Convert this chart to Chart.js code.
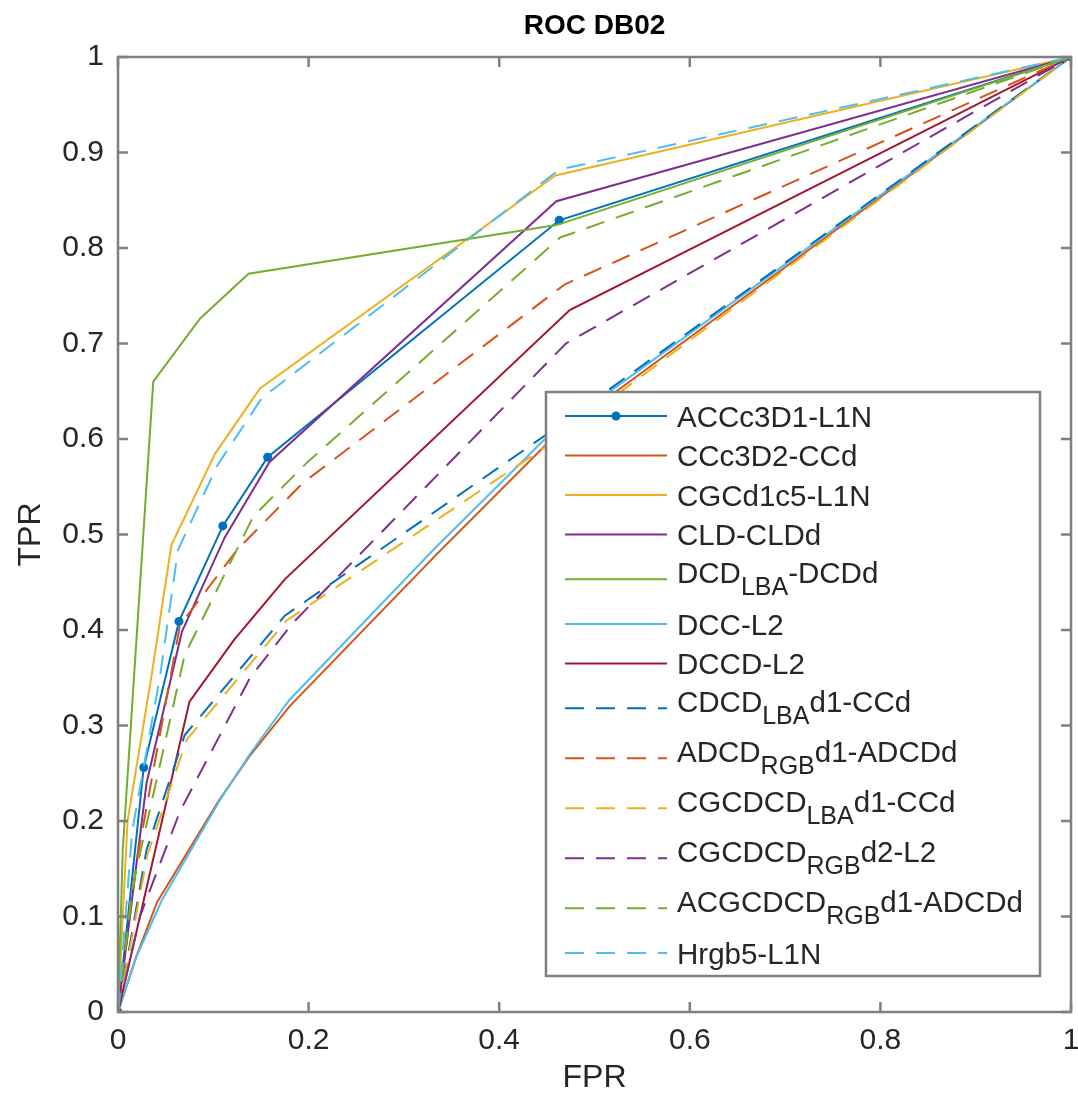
<!doctype html>
<html lang="en">
<head>
<meta charset="utf-8">
<title>ROC DB02</title>
<style>
  * { margin: 0; padding: 0; }
  body { background: #fff; }
  .chartBox { width: 1078px; height: 1107px; }
</style>
</head>
<body>
<div class="chartBox"><canvas id="myChart"></canvas></div>
<script src="https://cdn.jsdelivr.net/npm/chart.js/dist/chart.umd.min.js"></script>
<script>
// ROC points (FPR on x, TPR on y)
const fprACCc3D1 = [0, 0.027, 0.064, 0.110, 0.157, 0.463, 1];
const tprACCc3D1 = [0, 0.256, 0.409, 0.509, 0.581, 0.829, 1];
const fprCCc3D2 = [0, 0.020, 0.041, 0.105, 0.138, 0.180, 0.335, 0.455, 1];
const tprCCc3D2 = [0, 0.060, 0.115, 0.220, 0.268, 0.320, 0.480, 0.600, 1];
const fprCGCd1c5 = [0, 0.010, 0.035, 0.056, 0.102, 0.149, 0.459, 1];
const tprCGCd1c5 = [0, 0.200, 0.351, 0.489, 0.585, 0.653, 0.876, 1];
const fprCLD = [0, 0.030, 0.067, 0.112, 0.159, 0.460, 1];
const tprCLD = [0, 0.240, 0.398, 0.497, 0.576, 0.849, 1];
const fprDCD = [0, 0.005, 0.037, 0.086, 0.137, 0.460, 1];
const tprDCD = [0, 0.170, 0.660, 0.726, 0.773, 0.824, 1];
const fprDCC = [0, 0.018, 0.046, 0.107, 0.139, 0.180, 0.331, 0.450, 1];
const tprDCC = [0, 0.055, 0.117, 0.222, 0.271, 0.327, 0.484, 0.602, 1];
const fprDCCD = [0, 0.075, 0.122, 0.175, 0.474, 1];
const tprDCCD = [0, 0.325, 0.390, 0.453, 0.735, 1];
const fprCDCDlba = [0, 0.030, 0.070, 0.175, 0.450, 1];
const tprCDCDlba = [0, 0.170, 0.290, 0.415, 0.605, 1];
const fprADCDrgb = [0, 0.020, 0.065, 0.125, 0.194, 0.469, 1];
const tprADCDrgb = [0, 0.160, 0.405, 0.484, 0.554, 0.762, 1];
const fprCGCDCDlba = [0, 0.031, 0.072, 0.177, 0.458, 1];
const tprCGCDCDlba = [0, 0.165, 0.285, 0.410, 0.598, 1];
const fprCGCDCDrgb = [0, 0.023, 0.065, 0.1385, 0.184, 0.470, 1];
const tprCGCDCDrgb = [0, 0.100, 0.210, 0.350, 0.408, 0.700, 1];
const fprACGCDCD = [0, 0.015, 0.070, 0.142, 0.198, 0.464, 1];
const tprACGCDCD = [0, 0.130, 0.374, 0.519, 0.575, 0.811, 1];
const fprHrgb5 = [0, 0.015, 0.044, 0.063, 0.104, 0.151, 0.463, 1];
const tprHrgb5 = [0, 0.190, 0.351, 0.484, 0.572, 0.643, 0.882, 1];

const seriesNames = [
  'ACCc3D1-L1N', 'CCc3D2-CCd', 'CGCd1c5-L1N', 'CLD-CLDd', 'DCD_{LBA}-DCDd',
  'DCC-L2', 'DCCD-L2', 'CDCD_{LBA}d1-CCd', 'ADCD_{RGB}d1-ADCDd',
  'CGCDCD_{LBA}d1-CCd', 'CGCDCD_{RGB}d2-L2', 'ACGCDCD_{RGB}d1-ADCDd', 'Hrgb5-L1N'
];
const seriesFpr = [fprACCc3D1, fprCCc3D2, fprCGCd1c5, fprCLD, fprDCD, fprDCC, fprDCCD,
  fprCDCDlba, fprADCDrgb, fprCGCDCDlba, fprCGCDCDrgb, fprACGCDCD, fprHrgb5];
const seriesTpr = [tprACCc3D1, tprCCc3D2, tprCGCd1c5, tprCLD, tprDCD, tprDCC, tprDCCD,
  tprCDCDlba, tprADCDrgb, tprCGCDCDlba, tprCGCDCDrgb, tprACGCDCD, tprHrgb5];

const xTickLabels = ['0', '0.2', '0.4', '0.6', '0.8', '1'];
const yTickLabels = ['0', '0.1', '0.2', '0.3', '0.4', '0.5', '0.6', '0.7', '0.8', '0.9', '1'];

// matlab default line colours, the last six repeat dashed
const palette = ['#0072BD', '#D95319', '#EDB120', '#7E2F8E', '#77AC30', '#4DBEEE', '#A2142F'];
const FONT = '"Liberation Sans", Arial, Helvetica, sans-serif';
const textColor = '#262626';
const axisColor = '#808080';
const dash = [19, 12];

const datasets = seriesNames.map((name, i) => ({
  label: name.replace(/_\{([^}]*)\}/g, '$1'),
  data: seriesFpr[i].map((f, k) => ({ x: f, y: seriesTpr[i][k] })),
  showLine: true,
  borderColor: palette[i % 7],
  backgroundColor: palette[i % 7],
  borderWidth: 2,
  borderDash: i >= 7 ? dash : [],
  pointRadius: i === 0 ? 4.5 : 0,
  pointHoverRadius: i === 0 ? 4.5 : 0,
  pointBorderWidth: 0,
  tension: 0,
  order: -i   // later series on top, like matlab
}));

// box, inward ticks, title, axis labels and the legend
const roclook = {
  id: 'roclook',
  afterDraw(chart) {
    const { ctx, chartArea: { left, right, top, bottom }, scales: { x, y } } = chart;
    const tickLen = 10;
    ctx.save();
    ctx.strokeStyle = axisColor;
    ctx.lineWidth = 2.5;
    ctx.setLineDash([]);
    ctx.strokeRect(left, top, right - left, bottom - top);
    ctx.beginPath();
    x.ticks.forEach(t => {
      const px = x.getPixelForValue(t.value);
      ctx.moveTo(px, bottom); ctx.lineTo(px, bottom - tickLen);
      ctx.moveTo(px, top); ctx.lineTo(px, top + tickLen);
    });
    y.ticks.forEach(t => {
      const py = y.getPixelForValue(t.value);
      ctx.moveTo(left, py); ctx.lineTo(left + tickLen, py);
      ctx.moveTo(right, py); ctx.lineTo(right - tickLen, py);
    });
    ctx.stroke();

    ctx.fillStyle = '#000';
    ctx.textAlign = 'center';
    ctx.textBaseline = 'middle';
    ctx.font = `bold 28px ${FONT}`;
    ctx.fillText('ROC DB02', (left + right) / 2, 26);

    ctx.fillStyle = textColor;
    ctx.font = `32px ${FONT}`;
    ctx.fillText('FPR', (left + right) / 2, 1078);
    ctx.save();
    ctx.translate(31, (top + bottom) / 2);
    ctx.rotate(-Math.PI / 2);
    ctx.fillText('TPR', 0, 0);
    ctx.restore();

    // legend
    const lx = 546, ly = 392, lw = 494, lh = 584;
    ctx.fillStyle = '#fff';
    ctx.fillRect(lx, ly, lw, lh);
    ctx.strokeStyle = axisColor;
    ctx.lineWidth = 2.5;
    ctx.strokeRect(lx, ly, lw, lh);

    const plainH = 39.5, subH = 50;
    const hasSub = seriesNames.map(n => n.includes('_{'));
    let cy = 416;
    seriesNames.forEach((name, i) => {
      if (i > 0) cy += ((hasSub[i - 1] ? subH : plainH) + (hasSub[i] ? subH : plainH)) / 2;
      const ds = chart.data.datasets[i];
      ctx.strokeStyle = ds.borderColor;
      ctx.lineWidth = 2;
      ctx.setLineDash(ds.borderDash);
      ctx.beginPath();
      ctx.moveTo(565, cy); ctx.lineTo(667, cy);
      ctx.stroke();
      ctx.setLineDash([]);
      if (i === 0) {
        ctx.fillStyle = ds.borderColor;
        ctx.beginPath();
        ctx.arc(616, cy, 4.5, 0, Math.PI * 2);
        ctx.fill();
      }
      // text with subscripts
      const parts = name.split(/(_\{[^}]*\})/).filter(p => p.length);
      const base = hasSub[i] ? cy + 4 : cy + 10.5;
      let tx = 677;
      ctx.fillStyle = textColor;
      ctx.textAlign = 'left';
      ctx.textBaseline = 'alphabetic';
      parts.forEach(p => {
        if (p.startsWith('_{')) {
          const s = p.slice(2, -1);
          ctx.font = `25px ${FONT}`;
          ctx.fillText(s, tx, base + 12);
          tx += ctx.measureText(s).width;
        } else {
          ctx.font = `29.5px ${FONT}`;
          ctx.fillText(p, tx, base);
          tx += ctx.measureText(p).width;
        }
      });
    });
    ctx.restore();
  }
};

const config = {
  type: 'scatter',
  data: { datasets },
  options: {
    responsive: true,
    maintainAspectRatio: false,
    animation: false,
    layout: { padding: { top: 57, right: 7, left: 0, bottom: 0 } },
    plugins: { legend: { display: false }, tooltip: { enabled: false } },
    scales: {
      x: {
        type: 'linear', min: 0, max: 1,
        grid: { display: false, drawTicks: false },
        border: { display: false },
        ticks: {
          stepSize: 0.2, padding: 11, color: textColor,
          font: { family: FONT, size: 30 },
          callback: v => xTickLabels[Math.round(v * 5)]
        },
        afterFit: scale => {
          scale.height = 95;
          scale.paddingLeft = 0;
          scale.paddingRight = 0;
        }
      },
      y: {
        type: 'linear', min: 0, max: 1,
        grid: { display: false, drawTicks: false },
        border: { display: false },
        ticks: {
          stepSize: 0.1, padding: 14, color: textColor,
          font: { family: FONT, size: 30 },
          callback: v => yTickLabels[Math.round(v * 10)]
        },
        afterFit: scale => {
          scale.width = 118;
          scale.paddingTop = 0;
          scale.paddingBottom = 0;
        }
      }
    }
  },
  plugins: [roclook]
};

const myChart = new Chart(document.getElementById('myChart'), config);
</script>
</body>
</html>
